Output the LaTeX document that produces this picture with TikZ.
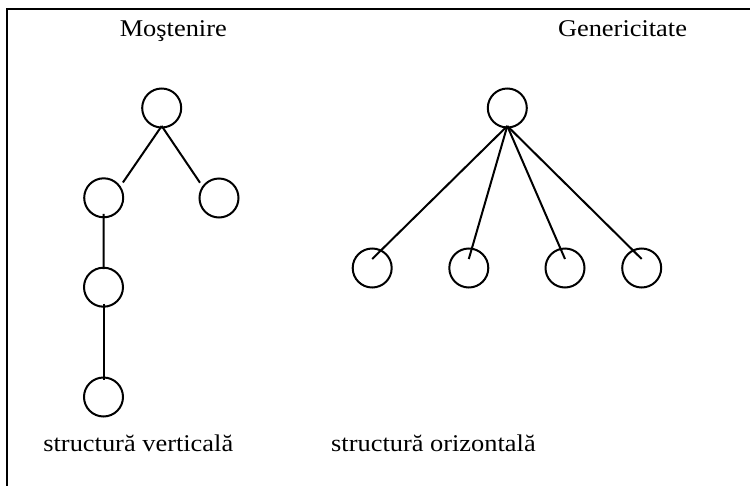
\documentclass[tikz,border=0pt]{standalone}
\usepackage{fontspec}
\setmainfont{Liberation Serif}[FakeStretch=1.1]
\usetikzlibrary{calc}
\begin{document}
\begin{tikzpicture}[x=1pt,y=-1pt,
  vertex/.style={circle,draw,line width=2pt,minimum size=39pt,inner sep=0pt},
  edge/.style={line width=2pt},
  caption/.style={font=\fontsize{24}{28}\selectfont,inner sep=0pt,anchor=base}]
  \useasboundingbox (0,0) rectangle (750,485);
  % outer frame (runs off the right and bottom edges)
  \draw[line width=2.2pt] (7,9) rectangle (770,500);

  % headings and captions
  \node[caption] (tInh) at (173.3,36.8) {Moştenire};
  \node[caption] (tGen) at (622.5,36.8) {Genericitate};
  \node[caption] (tVert) at (138.3,451.7) {structură verticală};
  \node[caption,anchor=base west] (tHor) at (331,451.7) {structură orizontală};

  % inheritance: vertical structure
  \node[vertex] (m0) at (161.7,108) {};
  \node[vertex] (m1) at (103.7,197.8) {};
  \node[vertex] (m2) at (219,198) {};
  \node[vertex] (m3) at (103.5,287.2) {};
  \node[vertex] (m4) at (103.5,397) {};
  \coordinate (mTop) at ($(m0.south)+(0,-2.5)$);
  \draw[edge] (mTop) -- ([shift={(19.2,-15.3)}]m1.center);
  \draw[edge] (mTop) -- ([shift={(-19,-15.3)}]m2.center);
  \draw[edge] ($(m1.south)+(0,-4.5)$) -- ($(m3.north)+(0,2.5)$);
  \draw[edge] ($(m3.south)+(0,-4)$) -- ($(m4.north)+(0,3)$);

  % genericity: horizontal structure
  \node[vertex] (g0) at (507.3,108) {};
  \node[vertex] (g1) at (372.2,268) {};
  \node[vertex] (g2) at (468.8,268) {};
  \node[vertex] (g3) at (565,268) {};
  \node[vertex] (g4) at (641.7,268) {};
  \coordinate (gTop) at ($(g0.south)+(0,-2.5)$);
  \foreach \g in {g1,g2,g3,g4}
    \draw[edge] (gTop) -- ([yshift=9pt]\g.center);
\end{tikzpicture}
\end{document}
